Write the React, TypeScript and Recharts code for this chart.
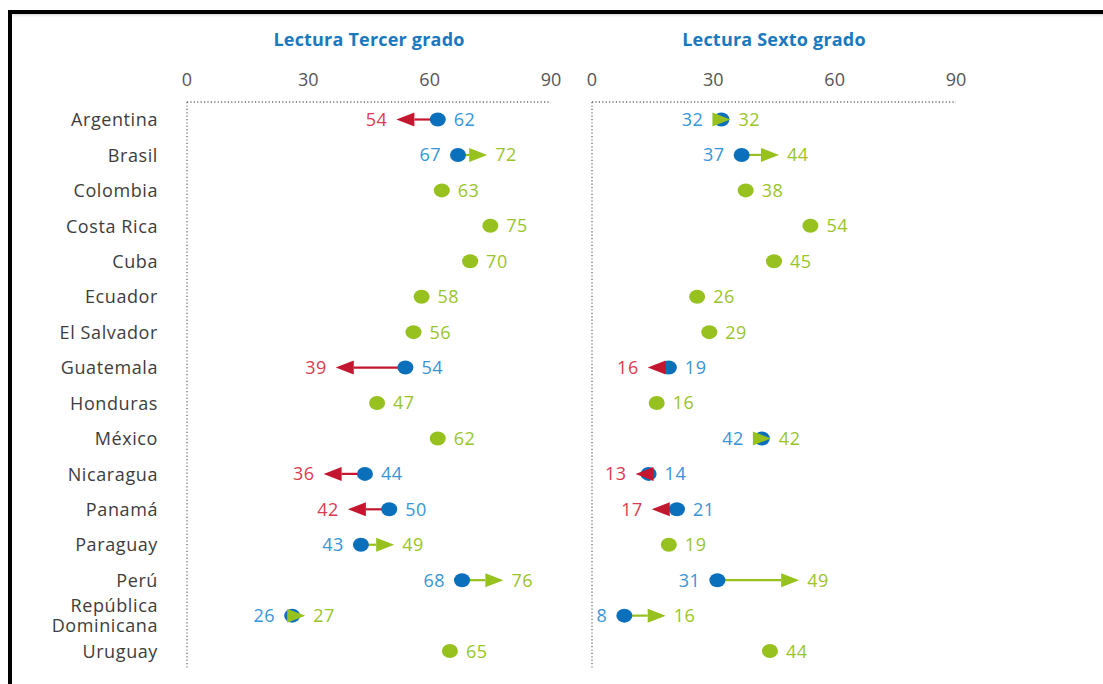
import { ComposedChart, Bar, XAxis, YAxis } from 'recharts';

const countries = [
  'Argentina', 'Brasil', 'Colombia', 'Costa Rica', 'Cuba', 'Ecuador', 'El Salvador', 'Guatemala',
  'Honduras', 'México', 'Nicaragua', 'Panamá', 'Paraguay', 'Perú', 'República Dominicana', 'Uruguay',
];
// null = sin comparación (solo el valor actual)
const tercerAnterior = [62, 67, null, null, null, null, null, 54, null, null, 44, 50, 43, 68, 26, null];
const tercerActual = [54, 72, 63, 75, 70, 58, 56, 39, 47, 62, 36, 42, 49, 76, 27, 65];
const sextoAnterior = [32, 37, null, null, null, null, null, 19, null, 42, 14, 21, null, 31, 8, null];
const sextoActual = [32, 44, 38, 54, 45, 26, 29, 16, 16, 42, 13, 17, 19, 49, 16, 44];
const xTicks = [0, 30, 60, 90];

const BLUE = '#0b70bc';
const GREEN = '#96c11f';
const RED = '#c4162f';
const BLUE_TXT = '#3895d6';
const GREEN_TXT = '#9ac42a';
const RED_TXT = '#dc3a50';
const FONT = '"Open Sans", sans-serif';

type Row = { country: string; prev: number | null; curr: number; range: [number, number] };

function buildRows(prev: (number | null)[], curr: number[]): Row[] {
  return countries.map((c, i) => ({
    country: c,
    prev: prev[i],
    curr: curr[i],
    range: [prev[i] ?? curr[i], curr[i]],
  }));
}

const tercerRows = buildRows(tercerAnterior, tercerActual);
const sextoRows = buildRows(sextoAnterior, sextoActual);

function ValueText({ x, y, anchor, color, value }: { x: number; y: number; anchor: string; color: string; value: number }) {
  return (
    <text x={x} y={y} dy="0.36em" textAnchor={anchor} fill={color} fontSize={18} fontFamily={FONT} letterSpacing={0.5}>
      {value}
    </text>
  );
}

// dot (anterior) + shaft + arrowhead (actual), or a single green dot
function DumbbellShape(props: any) {
  const { x, y, width, height, payload } = props;
  const cy = y + height / 2;
  const lo = Math.min(x, x + width);
  const hi = Math.max(x, x + width);
  const { prev, curr } = payload as Row;

  if (prev == null) {
    return (
      <g>
        <ellipse cx={lo} cy={cy} rx={8} ry={7} fill={GREEN} />
        <ValueText x={lo + 16} y={cy} anchor="start" color={GREEN_TXT} value={curr} />
      </g>
    );
  }

  const up = curr >= prev;
  const dir = up ? 1 : -1;
  const px = up ? lo : hi;
  const qx = up ? hi : lo;
  const headColor = up ? GREEN : RED;
  const base = qx - dir * 9;
  const leftEdge = Math.min(px - 8, qx - 9);
  const rightEdge = Math.max(px + 8, qx + 9);

  return (
    <g>
      {dir * (base - px) > 0 && (
        <line x1={px} y1={cy} x2={base} y2={cy} stroke={headColor} strokeWidth={2.2} />
      )}
      <ellipse cx={px} cy={cy} rx={8} ry={7} fill={BLUE} />
      <polygon points={`${qx - dir * 9},${cy - 7} ${qx + dir * 9},${cy} ${qx - dir * 9},${cy + 7}`} fill={headColor} />
      <ValueText
        x={leftEdge - 9}
        y={cy}
        anchor="end"
        color={up ? BLUE_TXT : RED_TXT}
        value={up ? prev : curr}
      />
      <ValueText
        x={rightEdge + 8}
        y={cy}
        anchor="start"
        color={up ? GREEN_TXT : BLUE_TXT}
        value={up ? curr : prev}
      />
    </g>
  );
}

function CountryTick(props: any) {
  const { x, y, payload } = props;
  const lines = payload.value === 'República Dominicana' ? ['República', 'Dominicana'] : [payload.value];
  return (
    <text textAnchor="end" fill="#3d3d3d" fontSize={18} fontFamily={FONT} letterSpacing={0.6}>
      {lines.map((l: string, i: number) => (
        <tspan key={l} x={x} y={y + (lines.length === 1 ? 0 : i === 0 ? -10 : 10)} dy="0.36em">
          {l}
        </tspan>
      ))}
    </text>
  );
}

const dotted = { stroke: '#6b6b6b', strokeDasharray: '1.2 2.2', strokeWidth: 1.3 };
const tickStyle = { fill: '#555', fontSize: 18, fontFamily: FONT };

function Panel({ rows, width, yWidth, showNames }: { rows: Row[]; width: number; yWidth: number; showNames: boolean }) {
  return (
    <ComposedChart
      width={width}
      height={684}
      data={rows}
      layout="vertical"
      margin={{ top: 60, right: 14, bottom: 15, left: 0 }}
      barCategoryGap={0}
    >
      <XAxis
        type="number"
        orientation="top"
        domain={[0, 90]}
        ticks={xTicks}
        height={42}
        tickLine={false}
        tickMargin={10}
        axisLine={dotted}
        tick={tickStyle}
        interval={0}
      />
      <YAxis
        type="category"
        dataKey="country"
        width={yWidth}
        tickLine={false}
        tickMargin={23}
        axisLine={dotted}
        tick={showNames ? <CountryTick /> : false}
        interval={0}
      />
      <Bar dataKey="range" shape={<DumbbellShape />} isAnimationActive={false} />
    </ComposedChart>
  );
}

export default function App() {
  const title: React.CSSProperties = {
    position: 'absolute',
    top: 28,
    width: 300,
    textAlign: 'center',
    lineHeight: '22px',
    fontFamily: FONT,
    fontWeight: 700,
    fontSize: 18,
    letterSpacing: 0.2,
    color: '#1a78bf',
  };
  return (
    <div style={{ position: 'absolute', left: 0, top: 0, width: 1103, height: 684, background: '#fff', overflow: 'hidden' }}>
      <div
        style={{
          position: 'absolute',
          left: 8,
          top: 10,
          width: 1103,
          height: 684,
          borderTop: '4px solid #000',
          borderLeft: '4px solid #000',
          boxShadow: 'inset 0 3px 3px -2px rgba(0,0,0,0.18)',
        }}
      />
      <div style={{ ...title, left: 369 - 150 }}>Lectura Tercer grado</div>
      <div style={{ ...title, left: 774 - 150 }}>Lectura Sexto grado</div>
      <div style={{ position: 'absolute', left: 0, top: 0 }}>
        <Panel rows={tercerRows} width={565} yWidth={187} showNames />
      </div>
      <div style={{ position: 'absolute', left: 560, top: 0 }}>
        <Panel rows={sextoRows} width={410} yWidth={32} showNames={false} />
      </div>
    </div>
  );
}
